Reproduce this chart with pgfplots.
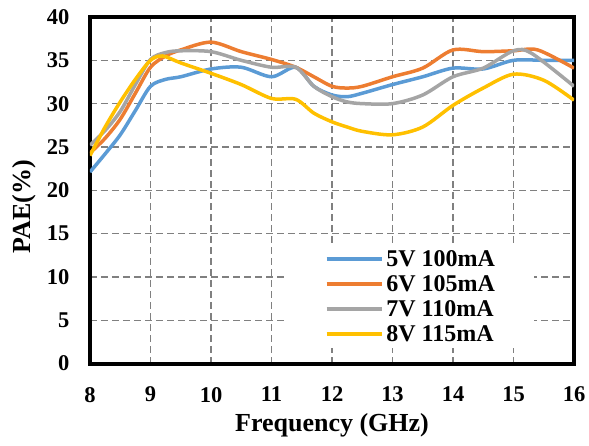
\documentclass[border=0pt]{standalone}
\usepackage{fontspec}
\setmainfont{Liberation Serif}
\usepackage{pgfplots}
\pgfplotsset{compat=1.18}
\definecolor{cblue}{HTML}{5B9BD5}
\definecolor{corange}{HTML}{ED7D31}
\definecolor{cgray}{HTML}{A5A5A5}
\definecolor{cyellow}{HTML}{FFC000}
\begin{document}
\begin{tikzpicture}
\path[use as bounding box] (-90pt,-81.5pt) rectangle (499pt,363.5pt);
\begin{axis}[
  scale only axis,
  width=484pt, height=346.5pt,
  at={(0pt,0pt)}, anchor=south west,
  xmin=8, xmax=16, ymin=0, ymax=40,
  xtick={8,9,...,16}, ytick={0,5,...,40},
  major tick length=0pt,
  grid=major,
  major grid style={gray, line width=1.3pt, dash pattern=on 7pt off 4pt},
  axis line style={line width=4pt, black},
  /pgf/number format/assume math mode=true,
  tick label style={font=\fontsize{22.5}{26}\selectfont\bfseries},
  xticklabel style={yshift=-20pt},
  yticklabel style={xshift=-17pt},
  xlabel={Frequency (GHz)},
  ylabel={PAE(\%)},
  label style={font=\fontsize{26}{30}\selectfont\bfseries},
  xlabel style={at={(axis description cs:0.5,0)}, anchor=north, yshift=-46pt},
  ylabel style={at={(axis description cs:-0.1364,0.452)}, anchor=center},
  legend style={at={(axis cs:11.25,13.7)}, anchor=north west, draw=none, fill=white,
    inner xsep=38pt, inner ysep=4pt, row sep=5pt,
    font=\fontsize{24}{28}\selectfont\bfseries,
    nodes={inner sep=1pt, text height=16pt, text depth=2pt},
    /tikz/every odd column/.append style={column sep=2pt}},
  legend cell align=left,
  legend image code/.code={\draw[#1, line width=3.5pt] (0pt,0pt) -- (55pt,0pt);},
  every axis plot/.append style={line width=3.5pt, smooth, tension=0.5},
]
\addplot[cblue] coordinates {
(8,22.1)(8.25,24.2)(8.5,26.4)(8.75,29.2)(9,32.0)(9.25,32.8)(9.5,33.1)(10,34.0)(10.5,34.2)
(11,33.1)(11.4,34.2)(11.7,32.0)(12,31.0)(12.25,30.8)(12.5,31.2)(13,32.2)(13.5,33.1)
(14,34.1)(14.5,34.0)(15,35.0)(15.5,35.0)(16,35.0)};
\addlegendentry{5V 100mA}
\addplot[corange] coordinates {
(8,24.3)(8.25,26.0)(8.5,28.2)(8.75,31.2)(9,34.2)(9.25,35.5)(9.5,36.2)(10,37.1)(10.5,36.0)
(11,35.1)(11.4,34.2)(11.7,33.1)(12,32.0)(12.25,31.8)(12.5,32.0)(13,33.1)(13.5,34.1)
(14,36.2)(14.5,36.0)(15,36.1)(15.4,36.2)(16,34.1)};
\addlegendentry{6V 105mA}
\addplot[cgray] coordinates {
(8,25.2)(8.25,26.9)(8.5,29.1)(8.75,32.2)(9,35.1)(9.25,35.9)(9.5,36.1)(10,36.0)(10.5,35.0)
(11,34.2)(11.4,34.2)(11.7,32.0)(12,30.8)(12.25,30.2)(12.5,30.0)(13,30.0)(13.5,31.0)
(14,33.1)(14.5,34.1)(15,36.1)(15.3,35.8)(16,32.0)};
\addlegendentry{7V 110mA}
\addplot[cyellow] coordinates {
(8,24.0)(8.25,27.3)(8.5,30.2)(8.75,32.8)(9,35.0)(9.2,35.5)(9.5,34.7)(10,33.5)(10.5,32.2)
(11,30.6)(11.4,30.5)(11.7,28.9)(12,27.9)(12.25,27.3)(12.5,26.8)(13,26.4)(13.5,27.3)
(14,29.8)(14.5,31.8)(15,33.4)(15.5,32.7)(16,30.4)};
\addlegendentry{8V 115mA}
\end{axis}
\end{tikzpicture}
\end{document}
